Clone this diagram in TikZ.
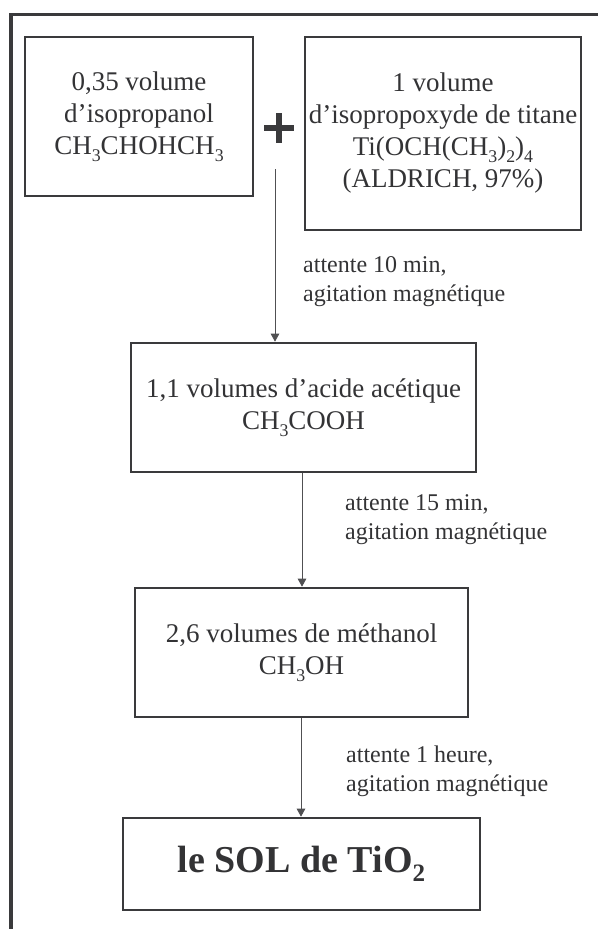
\documentclass[tikz,border=0pt]{standalone}
\usepackage{fontspec}
\setmainfont{Liberation Serif}
\usetikzlibrary{arrows.meta}
\definecolor{ink}{HTML}{333335}
\definecolor{frame}{HTML}{3A3A3C}
\definecolor{arr}{HTML}{505052}
\newcommand{\chsub}[1]{\raisebox{-0.24em}{\scalebox{0.66}{#1}}}
\begin{document}
\begin{tikzpicture}[x=1pt,y=-1pt,
  box/.style={draw=frame,line width=2.6pt,inner sep=0pt,align=center,text=ink,
    font=\fontsize{27}{32}\selectfont},
  lbl/.style={anchor=west,align=left,inner sep=0pt,text=ink,
    font=\fontsize{24}{29}\selectfont},
  flow/.style={draw=arr,line width=1pt,-{Triangle[length=8pt,width=8.5pt]}}]
\useasboundingbox (0,0) rectangle (598,929);
% outer frame (top and left visible)
\draw[frame,line width=3.8pt] (11,929) -- (11,14.5) -- (598,14.5);
% boxes
\node[box,minimum width=228pt,minimum height=159pt] (b1) at (139,116.5)
  {0,35 volume\\d’isopropanol\\CH\chsub{3}CHOHCH\chsub{3}};
\node[box,minimum width=276pt,minimum height=193pt] (b2) at (443,133.5)
  {1 volume\\d’isopropoxyde de titane\\Ti(OCH(CH\chsub{3})\chsub{2})\chsub{4}\\(ALDRICH, 97\%)};
\node[box,minimum width=345pt,minimum height=129pt] (b3) at (303.5,407.5)
  {1,1 volumes d’acide acétique\\CH\chsub{3}COOH};
\node[box,minimum width=333pt,minimum height=129pt] (b4) at (301.5,652.5)
  {2,6 volumes de méthanol\\CH\chsub{3}OH};
\node[box,minimum width=357pt,minimum height=92pt,
  font=\fontsize{38}{44}\selectfont\bfseries] (b5) at (301.5,864)
  {le SOL de TiO\chsub{2}};
% plus sign
\node[inner sep=0pt] (plus) at (279,128) {};
\draw[frame,line width=6.5pt] (plus.center) ++(-15,0) -- ++(30,0);
\draw[frame,line width=6.5pt] (plus.center) ++(0,-15) -- ++(0,30);
% connectors
\coordinate (s1) at (275,169);
\draw[flow] (s1) -- (s1 |- b3.north);
\coordinate (s2) at (302,0);
\draw[flow] (s2 |- b3.south) -- (s2 |- b4.north);
\coordinate (s3) at (301,0);
\draw[flow] (s3 |- b4.south) -- (s3 |- b5.north);
% labels
\node[lbl] (l1) at (303,282) {attente 10 min,\\agitation magnétique};
\node[lbl] (l2) at (345,520) {attente 15 min,\\agitation magnétique};
\node[lbl] (l3) at (346,771) {attente 1 heure,\\agitation magnétique};
\end{tikzpicture}
\end{document}
